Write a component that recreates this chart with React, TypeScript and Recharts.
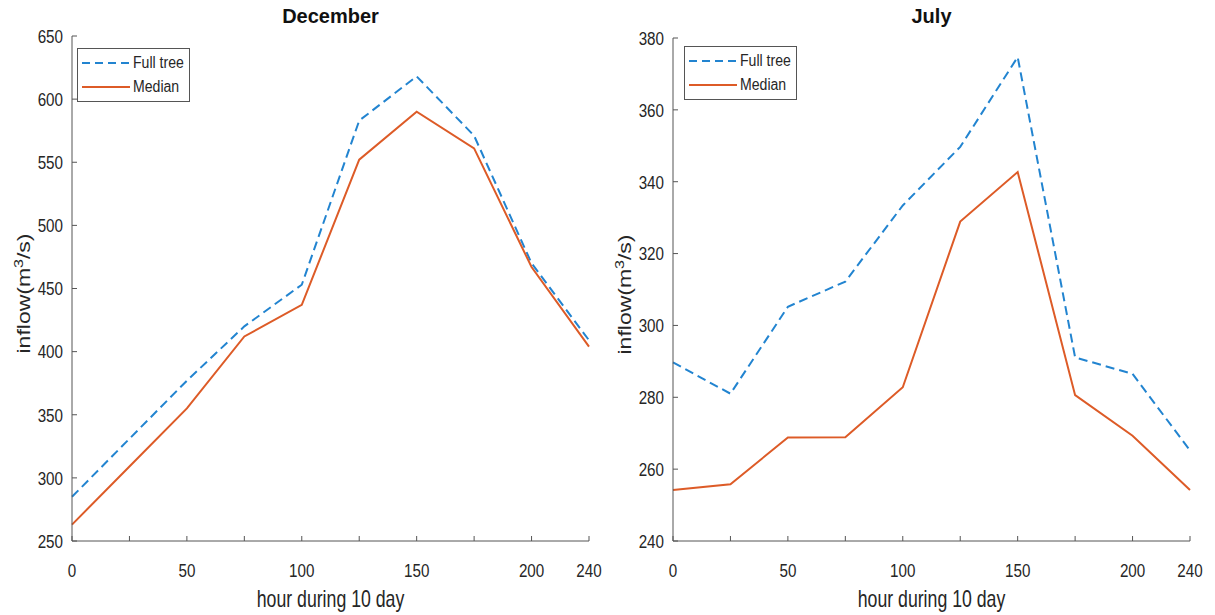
import React from 'react';
import { LineChart, Line, XAxis, YAxis, Label } from 'recharts';

const hours = [0, 25, 50, 75, 100, 125, 150, 175, 200, 225];
const xTickLabels = ['0', '', '50', '', '100', '', '150', '', '200', '240'];

const decFullTree = [285, 331, 377, 420, 453, 583, 618, 571, 470, 409];
const decMedian = [263, 309, 355, 412, 437, 552, 590, 561, 467, 404];
const decTicks = [250, 300, 350, 400, 450, 500, 550, 600, 650];

const julFullTree = [289.7, 281, 305.2, 312.2, 333.4, 349.7, 374.7, 291.1, 286.5, 265.2];
const julMedian = [254.2, 255.8, 268.8, 268.9, 282.8, 328.9, 342.7, 280.6, 269.3, 254.2];
const julTicks = [240, 260, 280, 300, 320, 340, 360, 380];

const FONT = '"Liberation Sans", Arial, sans-serif';
const AXIS = '#555555';
const TEXT = '#262626';
const BLUE = '#2284d0';
const ORANGE = '#dd5b27';
const SQUEEZE = 0.8;

const XTick = (props: any) => {
  const { x, y, payload } = props;
  const label = xTickLabels[hours.indexOf(payload.value)] ?? '';
  if (!label) return null;
  return (
    <text transform={`translate(${x},${y}) scale(${SQUEEZE},1)`} textAnchor="middle" dy="0.72em" fontSize={19} fill={TEXT}>
      {label}
    </text>
  );
};

const YTick = (props: any) => {
  const { x, y, payload } = props;
  return (
    <text transform={`translate(${x},${y}) scale(${SQUEEZE},1)`} textAnchor="end" dy="0.36em" fontSize={19} fill={TEXT}>
      {payload.value}
    </text>
  );
};

type PanelProps = {
  title: string;
  left: number;
  width: number;
  plotWidth: number;
  marginTop: number;
  yWidth: number;
  fullTree: number[];
  median: number[];
  yTicks: number[];
  legendLeft: number;
  legendTop: number;
};

const Panel: React.FC<PanelProps> = (p) => {
  const data = hours.map((h, i) => ({ hour: h, full: p.fullTree[i], median: p.median[i] }));
  const plotLeft = p.yWidth;
  const plotRight = p.yWidth + p.plotWidth;
  const xAxisH = 74;
  const plotMidY = p.marginTop + (615 - xAxisH - p.marginTop) / 2;
  const yDomain = [p.yTicks[0], p.yTicks[p.yTicks.length - 1]];
  return (
    <div style={{ position: 'absolute', left: p.left, top: 0, width: p.width, height: 615 }}>
      <div
        style={{
          position: 'absolute',
          left: plotLeft,
          width: plotRight - plotLeft,
          top: 5,
          textAlign: 'center',
          fontWeight: 'bold',
          fontSize: 20,
          color: '#111',
        }}
      >
        {p.title}
      </div>
      <LineChart
        width={p.width}
        height={615}
        data={data}
        margin={{ top: p.marginTop, right: p.width - plotRight, left: 0, bottom: 0 }}
      >
        <XAxis
          xAxisId="b"
          dataKey="hour"
          type="number"
          domain={[0, 225]}
          ticks={hours}
          interval={0}
          height={xAxisH}
          tickSize={-5}
          tickMargin={27}
          stroke={AXIS}
          tick={<XTick />}
        >
          <Label
            content={() => (
              <text
                transform={`translate(${(plotLeft + plotRight) / 2},607) scale(0.77,1)`}
                textAnchor="middle"
                fontSize={23}
                fill={TEXT}
              >
                hour during 10 day
              </text>
            )}
          />
        </XAxis>
        <XAxis
          xAxisId="t"
          orientation="top"
          dataKey="hour"
          type="number"
          domain={[0, 225]}
          ticks={hours}
          interval={0}
          height={0}
          tickSize={-5}
          tickFormatter={() => ''}
          stroke={AXIS}
        />
        <YAxis
          yAxisId="l"
          domain={yDomain}
          ticks={p.yTicks}
          interval={0}
          width={p.yWidth}
          tickSize={-5}
          tickMargin={14}
          stroke={AXIS}
          tick={<YTick />}
        >
          <Label
            content={() => (
              <text
                transform={`translate(${plotLeft - 42},${plotMidY + 5}) rotate(-90) scale(1,0.78)`}
                textAnchor="middle"
                fontSize={23}
                fill={TEXT}
              >
                inflow(m
                <tspan dy={-9} fontSize={16}>3</tspan>
                <tspan dy={9}>/s)</tspan>
              </text>
            )}
          />
        </YAxis>
        <YAxis
          yAxisId="r"
          orientation="right"
          domain={yDomain}
          ticks={p.yTicks}
          interval={0}
          width={0}
          tickSize={-5}
          tickFormatter={() => ''}
          stroke={AXIS}
        />
        <Line
          xAxisId="b"
          yAxisId="l"
          type="linear"
          dataKey="full"
          stroke={BLUE}
          strokeWidth={2}
          strokeDasharray="9 5"
          dot={false}
          isAnimationActive={false}
        />
        <Line
          xAxisId="b"
          yAxisId="l"
          type="linear"
          dataKey="median"
          stroke={ORANGE}
          strokeWidth={2}
          dot={false}
          isAnimationActive={false}
        />
      </LineChart>
      <div
        style={{
          position: 'absolute',
          left: p.legendLeft,
          top: p.legendTop,
          width: 113,
          height: 54,
          boxSizing: 'border-box',
          border: `1px solid ${AXIS}`,
          background: '#fff',
          fontSize: 16,
          color: TEXT,
        }}
      >
        {[
          { name: 'Full tree', color: BLUE, dash: '8 5' },
          { name: 'Median', color: ORANGE, dash: undefined },
        ].map((e, i) => (
          <div
            key={e.name}
            style={{ position: 'absolute', left: 4, top: 4 + i * 24, height: 20, display: 'flex', alignItems: 'center', whiteSpace: 'nowrap' }}
          >
            <svg width={48} height={20}>
              <line x1={0} y1={10} x2={48} y2={10} stroke={e.color} strokeWidth={2} strokeDasharray={e.dash} />
            </svg>
            <span style={{ marginLeft: 3, display: 'inline-block', transform: 'scaleX(0.88)', transformOrigin: 'left center' }}>
              {e.name}
            </span>
          </div>
        ))}
      </div>
    </div>
  );
};

export default function App() {
  return (
    <div style={{ position: 'absolute', left: 0, top: 0, width: 1215, height: 615, background: '#fff', fontFamily: FONT }}>
      <Panel
        title="December"
        left={0}
        width={625}
        plotWidth={517}
        marginTop={36}
        yWidth={72}
        fullTree={decFullTree}
        median={decMedian}
        yTicks={decTicks}
        legendLeft={77}
        legendTop={48}
      />
      <Panel
        title="July"
        left={600}
        width={615}
        plotWidth={517}
        marginTop={38}
        yWidth={73}
        fullTree={julFullTree}
        median={julMedian}
        yTicks={julTicks}
        legendLeft={84}
        legendTop={46}
      />
    </div>
  );
}
